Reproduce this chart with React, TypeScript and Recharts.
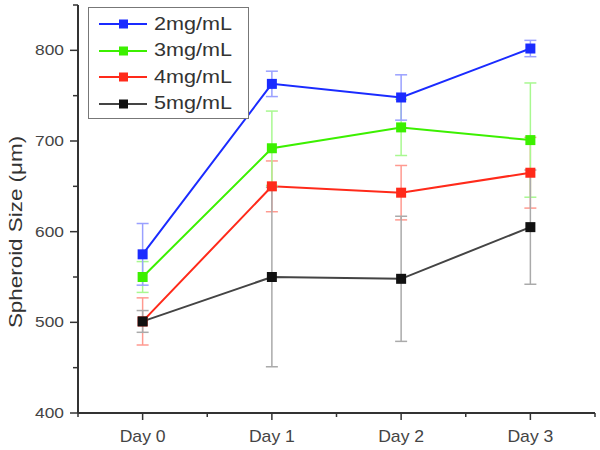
import React from "react";
import {
  LineChart,
  Line,
  XAxis,
  YAxis,
  ErrorBar,
} from "recharts";

const days = [0, 1, 2, 3];
const dayLabels = ["Day 0", "Day 1", "Day 2", "Day 3"];

const mg2 = [575, 763, 748, 802];
const mg2Err = [34, 14, 25, 9];
const mg3 = [550, 692, 715, 701];
const mg3Err = [17, 41, 31, 63];
const mg4 = [501, 650, 643, 665];
const mg4Err = [26, 28, 30, 39];
const mg5 = [501, 550, 548, 605];
const mg5Err = [12, 99, 69, 63];

const yTicks = [400, 450, 500, 550, 600, 650, 700, 750, 800, 850];
const xTicks = [-0.5, 0, 0.5, 1, 1.5, 2, 2.5, 3, 3.5];

const SERIES = [
  { key: "mg4", name: "4mg/mL", color: "#ff2a1a", err: "#ff9a90" },
  { key: "mg3", name: "3mg/mL", color: "#3cf000", err: "#a8f890" },
  { key: "mg2", name: "2mg/mL", color: "#1a2bff", err: "#9aa0ff" },
  { key: "mg5", name: "5mg/mL", color: "#111111", err: "#aaaaaa" },
];
const LEGEND_ORDER = ["mg2", "mg3", "mg4", "mg5"];
const LINE_COLORS: Record<string, string> = {
  mg5: "#444444",
};

const data = days.map((d, i) => ({
  day: d,
  mg2: mg2[i],
  mg2Err: mg2Err[i],
  mg3: mg3[i],
  mg3Err: mg3Err[i],
  mg4: mg4[i],
  mg4Err: mg4Err[i],
  mg5: mg5[i],
  mg5Err: mg5Err[i],
}));

const FONT = "'Liberation Sans', Arial, sans-serif";

const YTick = (props: any) => {
  const { x, y, payload } = props;
  const major = payload.value % 100 === 0;
  return (
    <g>
      <line x1={x - (major ? 8 : 5)} x2={x} y1={y} y2={y} stroke="#333" strokeWidth={1.5} />
      {major && (
        <text
          transform={`translate(${x - 14},${y + 5}) scale(1.12,1)`}
          textAnchor="end"
          fontSize={15.5}
          fill="#444"
          fontFamily={FONT}
        >
          {payload.value}
        </text>
      )}
    </g>
  );
};

const XTick = (props: any) => {
  const { x, y, payload } = props;
  const major = Number.isInteger(payload.value);
  return (
    <g>
      <line x1={x} x2={x} y1={y} y2={y + (major ? 7 : 4)} stroke="#333" strokeWidth={1.5} />
      {major && (
        <text
          transform={`translate(${x},${y + 29}) scale(1.1,1)`}
          textAnchor="middle"
          fontSize={16}
          fill="#444"
          fontFamily={FONT}
        >
          {dayLabels[payload.value]}
        </text>
      )}
    </g>
  );
};

const squareDot = (color: string) => (p: any) => (
  <rect
    key={`${color}-${p.index}`}
    x={p.cx - 5}
    y={p.cy - 5}
    width={10}
    height={10}
    fill={color}
  />
);

const LegendBox = () => (
  <div
    style={{
      position: "absolute",
      left: 88,
      top: 7,
      width: 149,
      height: 107,
      border: "1.5px solid #777",
      background: "#fff",
      padding: "3px 0 0 10px",
      fontFamily: FONT,
      fontSize: 18,
      color: "#333",
    }}
  >
    {LEGEND_ORDER.map((k) => {
      const s = SERIES.find((x) => x.key === k)!;
      return (
        <div key={k} style={{ display: "flex", alignItems: "center", height: 26.5 }}>
          <svg width={48} height={12} style={{ marginRight: 7, flex: "none" }}>
            <line x1={0} x2={48} y1={6} y2={6} stroke={LINE_COLORS[k] || s.color} strokeWidth={2} />
            <rect x={20} y={1.5} width={9} height={9} fill={s.color} />
          </svg>
          <span style={{ display: "inline-block", transform: "scaleX(1.2)", transformOrigin: "left center" }}>
            {s.name}
          </span>
        </div>
      );
    })}
  </div>
);

export default function App() {
  return (
    <div style={{ position: "absolute", left: 0, top: 0, width: 600, height: 450, background: "#fff" }}>
      <LineChart
        width={600}
        height={450}
        data={data}
        margin={{ top: 5, right: 5, left: 0, bottom: 0 }}
      >
        <XAxis
          dataKey="day"
          type="number"
          domain={[-0.5, 3.5]}
          ticks={xTicks}
          interval={0}
          height={37}
          tickSize={0}
          tickMargin={0}
          tickLine={false}
          tick={<XTick />}
          stroke="#333"
          strokeWidth={2}
        />
        <YAxis
          type="number"
          domain={[400, 850]}
          ticks={yTicks}
          interval={0}
          width={78}
          tickSize={0}
          tickMargin={0}
          tickLine={false}
          tick={<YTick />}
          stroke="#333"
          strokeWidth={2}
        />
        {SERIES.map((s) => (
          <Line
            key={s.key}
            dataKey={s.key}
            name={s.name}
            stroke={LINE_COLORS[s.key] || s.color}
            strokeWidth={2}
            dot={squareDot(s.color)}
            activeDot={false}
            isAnimationActive={false}
          >
            <ErrorBar
              dataKey={`${s.key}Err`}
              direction="y"
              width={6}
              stroke={s.err}
              strokeWidth={1.5}
            />
          </Line>
        ))}
      </LineChart>
      <LegendBox />
      <svg
        width={40}
        height={450}
        style={{ position: "absolute", left: 0, top: 0, pointerEvents: "none" }}
      >
        <text
          transform="translate(15,232) rotate(-90) scale(1.18,1)"
          textAnchor="middle"
          dominantBaseline="central"
          fontSize={19}
          fill="#333"
          fontFamily={FONT}
        >
          Spheroid Size (μm)
        </text>
      </svg>
    </div>
  );
}
